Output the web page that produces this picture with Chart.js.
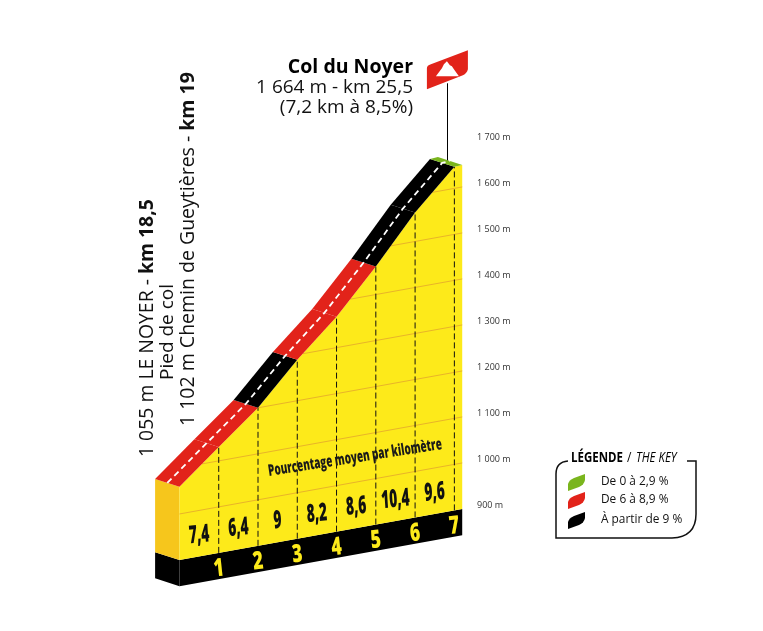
<!DOCTYPE html>
<html>
<head>
<meta charset="utf-8">
<title>Col du Noyer</title>
<script src="https://cdn.jsdelivr.net/npm/chart.js@4"></script>
<style>
  html, body { margin: 0; padding: 0; background: #fff; }
  canvas { display: block; }
</style>
</head>
<body>
<canvas id="profileChart" width="763" height="631"></canvas>
<script>
// profile
const kmMarks = [0, 1, 2, 3, 4, 5, 6, 7, 7.2];
const altitudes = [1059, 1130, 1200, 1289, 1367, 1461, 1563, 1647, 1648];
const segmentGrades = ['red', 'red', 'black', 'red', 'red', 'black', 'black', 'green'];
const slopeLabels = ['7,4', '6,4', '9', '8,2', '8,6', '10,4', '9,6'];
const kmLabels = ['1', '2', '3', '4', '5', '6', '7'];
const altTicks = [900, 1000, 1100, 1200, 1300, 1400, 1500, 1600, 1700];
const legendLabels = ['De 0 à 2,9 %', 'De 6 à 8,9 %', 'À partir de 9 %'];
const legendGrades = ['green', 'red', 'black'];

const colors = { green: '#7ab51d', red: '#e2231a', black: '#000000' };
const yellow = '#fdea1a';
const sideYellow = '#f6c61c';
const gridOrange = '#e9b429';

// the drawing leans: ground rises to the right, and the road has depth
const tiltPerKm = 15.4;
const refKm = 7.76;
const depthKm = -0.62;
const depthM = 17;
const baseAlt = 900;
const plinthAlt = 843;
const lastKm = kmMarks[kmMarks.length - 1];

const project = (km, alt) => alt - tiltPerKm * (refKm - km);
const front = (km, alt) => ({ x: km, y: project(km, alt) });
const back = (km, alt) => ({ x: km + depthKm, y: project(km, alt) + depthM });

function shape(points, color) {
  return { data: points, showLine: true, fill: 'shape', backgroundColor: color,
    borderWidth: 0, pointRadius: 0 };
}
function stroke(points, color, width, dash) {
  return { data: points, showLine: true, fill: false, borderColor: color,
    borderWidth: width, borderDash: dash || [], pointRadius: 0 };
}

// where an altitude line meets the road
function crossing(alt) {
  for (let i = 0; i < altitudes.length - 1; i++) {
    if (alt >= altitudes[i] && alt < altitudes[i + 1]) {
      return kmMarks[i] + (alt - altitudes[i]) / (altitudes[i + 1] - altitudes[i]) * (kmMarks[i + 1] - kmMarks[i]);
    }
  }
  return 0;
}

// listed bottom layer first, reversed later because Chart.js paints the first dataset last
const layers = [];
layers.push(shape([front(0, baseAlt), front(0, plinthAlt), back(0, plinthAlt), back(0, baseAlt)], '#000000'));
layers.push(shape([front(0, baseAlt), front(lastKm, baseAlt), front(lastKm, plinthAlt), front(0, plinthAlt)], '#000000'));
layers.push(shape([front(0, baseAlt), front(0, altitudes[0]), back(0, altitudes[0]), back(0, baseAlt)], sideYellow));
layers.push(shape([front(0, baseAlt)].concat(kmMarks.map((k, i) => front(k, altitudes[i]))).concat([front(lastKm, baseAlt)]), yellow));

altTicks.filter(a => a > baseAlt && a < altitudes[altitudes.length - 1]).forEach(a => {
  layers.push(stroke([front(crossing(a), a), front(lastKm, a)], gridOrange, 1));
});

kmLabels.forEach(label => {
  const i = kmMarks.indexOf(Number(label));
  layers.push(stroke([front(kmMarks[i], baseAlt), front(kmMarks[i], altitudes[i])], '#111111', 1, [6, 3]));
});

segmentGrades.forEach((grade, i) => {
  const a = kmMarks[i], b = kmMarks[i + 1];
  layers.push(shape([front(a, altitudes[i]), front(b, altitudes[i + 1]), back(b, altitudes[i + 1]), back(a, altitudes[i])], colors[grade]));
});

const midLine = kmMarks.map((k, i) => ({
  x: k + depthKm * 0.5,
  y: project(k, altitudes[i]) + depthM * 0.5
}));
layers.push(stroke(midLine, '#ffffff', 1.8, [6, 4]));

function put(ctx, text, x, y, o) {
  ctx.save();
  ctx.translate(x, y);
  ctx.transform(1, 0, o.skew || 0, 1, 0, 0);
  if (o.angle) ctx.rotate(o.angle);
  if (o.sx) ctx.scale(o.sx, 1);
  ctx.font = o.font;
  ctx.fillStyle = o.color || '#111111';
  ctx.textAlign = o.align || 'left';
  ctx.textBaseline = o.base || 'alphabetic';
  ctx.fillText(text, 0, 0);
  ctx.restore();
}

// one rotated line, regular part then bold part
function upright(ctx, plain, bold, x, y, size) {
  ctx.save();
  ctx.translate(x, y);
  ctx.rotate(-Math.PI / 2);
  ctx.fillStyle = '#111111';
  ctx.font = size + 'px "Open Sans"';
  ctx.fillText(plain, 0, 0);
  const w = ctx.measureText(plain).width;
  ctx.font = 'bold ' + size + 'px "Open Sans"';
  ctx.fillText(bold, w, 0);
  ctx.restore();
}

function drawFlag(ctx, sx, sy) {
  ctx.fillStyle = '#000000';
  ctx.fillRect(Math.round(sx), sy - 77, 1, 77);
  ctx.fillStyle = colors.red;
  ctx.beginPath();
  ctx.moveTo(sx - 20, sy - 92);
  ctx.quadraticCurveTo(sx - 20, sy - 95, sx - 16, sy - 96);
  ctx.lineTo(sx + 21, sy - 110);
  ctx.lineTo(sx + 21, sy - 91);
  ctx.quadraticCurveTo(sx + 20, sy - 87, sx + 16, sy - 85);
  ctx.lineTo(sx - 20, sy - 71);
  ctx.closePath();
  ctx.fill();
  ctx.fillStyle = '#ffffff';
  ctx.beginPath();
  ctx.moveTo(sx - 11, sy - 84);
  ctx.lineTo(sx - 5, sy - 92);
  ctx.lineTo(sx - 3, sy - 96);
  ctx.lineTo(sx, sy - 99);
  ctx.lineTo(sx + 3, sy - 95);
  ctx.lineTo(sx + 5, sy - 94);
  ctx.lineTo(sx + 7, sy - 91);
  ctx.lineTo(sx + 12, sy - 84);
  ctx.closePath();
  ctx.fill();
}

function drawKey(ctx) {
  ctx.strokeStyle = '#111111';
  ctx.lineWidth = 1.5;
  ctx.beginPath();
  ctx.moveTo(568, 461);
  ctx.quadraticCurveTo(556, 462, 556, 474);
  ctx.lineTo(556, 538);
  ctx.lineTo(672, 538);
  ctx.quadraticCurveTo(696, 537, 696, 514);
  ctx.lineTo(696, 461);
  ctx.lineTo(687, 461);
  ctx.stroke();

  put(ctx, 'LÉGENDE', 571, 462, { font: 'bold 14px "Open Sans"', sx: 0.82, color: '#000000' });
  put(ctx, '/', 627, 462, { font: '14px "Open Sans"', sx: 0.86, color: '#000000' });
  put(ctx, 'THE KEY', 636, 462, { font: 'italic 14px "Open Sans"', sx: 0.82, color: '#000000' });

  const rows = [485, 503, 523];
  legendLabels.forEach((label, i) => {
    const y = rows[i];
    ctx.fillStyle = colors[legendGrades[i]];
    ctx.beginPath();
    ctx.moveTo(568, y + 6);
    ctx.lineTo(568, y - 1);
    ctx.quadraticCurveTo(569, y - 5, 574, y - 7);
    ctx.lineTo(585, y - 11);
    ctx.lineTo(585, y - 5);
    ctx.quadraticCurveTo(584, y, 579, y + 2);
    ctx.closePath();
    ctx.fill();
    put(ctx, label, 601, y, { font: '12px "Open Sans"', sx: 0.99, color: '#111111' });
  });
}

const profileText = {
  id: 'profileText',
  afterDatasetsDraw(chart) {
    const ctx = chart.ctx;
    const xs = chart.scales.x;
    const ys = chart.scales.y;
    const lean = -Math.atan(0.18);

    slopeLabels.forEach((label, i) => {
      const km = kmMarks[i] + 0.5;
      put(ctx, label, xs.getPixelForValue(km), ys.getPixelForValue(project(km, 946)), {
        font: '800 25px "Open Sans"', sx: 0.55, angle: lean * 0.6, skew: -0.04,
        align: 'center', base: 'middle', color: '#111111'
      });
    });
    kmLabels.forEach((label, i) => {
      const km = kmMarks[i + 1];
      put(ctx, label, xs.getPixelForValue(km), ys.getPixelForValue(project(km, 865)), {
        font: '800 25px "Open Sans"', sx: 0.7, angle: lean * 0.6,
        align: 'center', base: 'middle', color: yellow
      });
    });
    put(ctx, 'Pourcentage moyen par kilomètre', 355, 458, {
      font: '800 16px "Open Sans"', sx: 0.62, angle: -0.155,
      align: 'center', base: 'middle', color: '#1a1a1a'
    });

    put(ctx, 'Col du Noyer', 413, 73, { font: 'bold 19.5px "Open Sans"', align: 'right', color: '#000000' });
    put(ctx, '1 664 m - km 25,5', 413, 93, { font: '19px "Open Sans"', align: 'right' });
    put(ctx, '(7,2 km à 8,5%)', 413, 113, { font: '19px "Open Sans"', align: 'right' });

    upright(ctx, '1 055 m LE NOYER - ', 'km 18,5', 153, 457, 19.4);
    upright(ctx, 'Pied de col', '', 173, 380, 19);
    upright(ctx, '1 102 m Chemin de Gueytières - ', 'km 19', 194, 426, 19.5);

    drawFlag(ctx, xs.getPixelForValue(6.81), ys.getPixelForValue(project(6.81, altitudes[7]) + depthM));
    drawKey(ctx);
  }
};

new Chart(document.getElementById('profileChart'), {
  type: 'scatter',
  data: { datasets: layers.slice().reverse() },
  plugins: [profileText],
  options: {
    responsive: false,
    animation: false,
    layout: { padding: { left: 150, top: 45, bottom: 34, right: 0 } },
    plugins: { legend: { display: false }, tooltip: { enabled: false } },
    scales: {
      x: { type: 'linear', min: -0.75, max: 7.5, display: false },
      y: {
        type: 'linear',
        position: 'right',
        min: 700,
        max: 1900,
        afterBuildTicks: s => { s.ticks = altTicks.map(v => ({ value: v })); },
        afterFit: s => { s.width = 289; },
        grid: { display: false, drawTicks: false },
        border: { display: false },
        ticks: {
          padding: 3,
          color: '#333333',
          font: { family: '"Open Sans"', size: 9 },
          callback: v => String(v).replace(/(\d)(\d{3})$/, '$1 $2') + ' m'
        }
      }
    }
  }
});
</script>
</body>
</html>
